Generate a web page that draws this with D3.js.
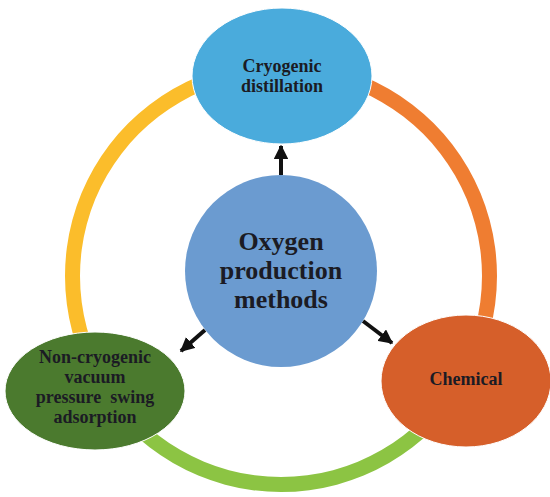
<!DOCTYPE html>
<html lang="en">
<head>
    <meta charset="UTF-8">
    <title>Oxygen production methods</title>
    <script src="https://d3js.org/d3.v7.min.js"></script>
    <style>
        body { margin: 0; background: #fff; }
        text { font-family: "Liberation Serif", "Times New Roman", serif; font-weight: bold; fill: #1b1b24; }
    </style>
</head>
<body>
    <svg width="550" height="497"></svg>
    <script>
        // Diagram content
        const centerLabel = ["Oxygen", "production", "methods"];
        const methods = ["Cryogenic distillation", "Chemical", "Non-cryogenic vacuum pressure swing adsorption"];
        const methodLines = [["Cryogenic", "distillation"], ["Chemical"], ["Non-cryogenic", "vacuum", "pressure  swing", "adsorption"]];
        const methodColors = ["#4aabdc", "#d65f2a", "#4b7a2e"];
        // ring segments, clockwise from the top
        const ringColors = ["#ef7d31", "#8cc443", "#fbbd2b"];
        const ringShares = [1, 1, 1];

        // Layout
        const svg = d3.select("svg");
        const ring = { cx: 281, cy: 276, inner: 201, outer: 216 };
        const hub = { cx: 281, cy: 271, r: 96 };
        const nodeLayout = [
            { cx: 282, cy: 76, rx: 90, ry: 68, fs: 18, lh: 20, ty: 0 },
            { cx: 466, cy: 381, rx: 85, ry: 66, fs: 18, lh: 20, ty: -2 },
            { cx: 95, cy: 391, rx: 90, ry: 59, fs: 18, lh: 20, ty: -4 }
        ];

        // Arrow marker
        svg.append("defs").append("marker")
            .attr("id", "head")
            .attr("viewBox", "0 0 10 10")
            .attr("refX", 9).attr("refY", 5)
            .attr("markerWidth", 3.6).attr("markerHeight", 3.6)
            .attr("orient", "auto")
            .append("path")
            .attr("d", "M0,0L10,5L0,10Z")
            .attr("fill", "#111");

        // Outer ring
        const pie = d3.pie().sort(null).value(d => d);
        const arc = d3.arc().innerRadius(ring.inner).outerRadius(ring.outer);
        svg.append("g")
            .attr("transform", `translate(${ring.cx},${ring.cy})`)
            .selectAll("path")
            .data(pie(ringShares))
            .join("path")
            .attr("d", arc)
            .attr("fill", (d, i) => ringColors[i]);

        // Arrows from the hub to each method
        const arrowEnds = [
            [[281, 175], [281, 146]],
            [[363, 321], [392, 343]],
            [[205, 330], [181, 351]]
        ];
        svg.append("g")
            .selectAll("line")
            .data(arrowEnds)
            .join("line")
            .attr("x1", d => d[0][0]).attr("y1", d => d[0][1])
            .attr("x2", d => d[1][0]).attr("y2", d => d[1][1])
            .attr("stroke", "#111")
            .attr("stroke-width", 4)
            .attr("marker-end", "url(#head)");

        // Method ellipses
        const nodes = svg.append("g")
            .selectAll("g")
            .data(methods)
            .join("g")
            .attr("transform", (d, i) => `translate(${nodeLayout[i].cx},${nodeLayout[i].cy})`);

        nodes.append("ellipse")
            .attr("rx", (d, i) => nodeLayout[i].rx)
            .attr("ry", (d, i) => nodeLayout[i].ry)
            .attr("fill", (d, i) => methodColors[i])
            .attr("stroke", "#fff")
            .attr("stroke-width", 1);

        nodes.each(function (d, i) {
            const lay = nodeLayout[i];
            const lines = methodLines[i];
            const top = lay.ty - ((lines.length - 1) * lay.lh) / 2;
            d3.select(this).append("text")
                .attr("text-anchor", "middle")
                .attr("font-size", lay.fs)
                .selectAll("tspan")
                .data(lines)
                .join("tspan")
                .attr("x", 0)
                .attr("y", (l, j) => top + j * lay.lh)
                .attr("dy", "0.35em")
                .style("white-space", "pre")
                .text(l => l);
        });

        // Central circle
        svg.append("circle")
            .attr("cx", hub.cx).attr("cy", hub.cy).attr("r", hub.r)
            .attr("fill", "#6b9bd0");

        svg.append("text")
            .attr("text-anchor", "middle")
            .attr("font-size", 26)
            .selectAll("tspan")
            .data(centerLabel)
            .join("tspan")
            .attr("x", hub.cx)
            .attr("y", (d, i) => 241 + i * 29)
            .attr("dy", "0.35em")
            .text(d => d);
    </script>
</body>
</html>
